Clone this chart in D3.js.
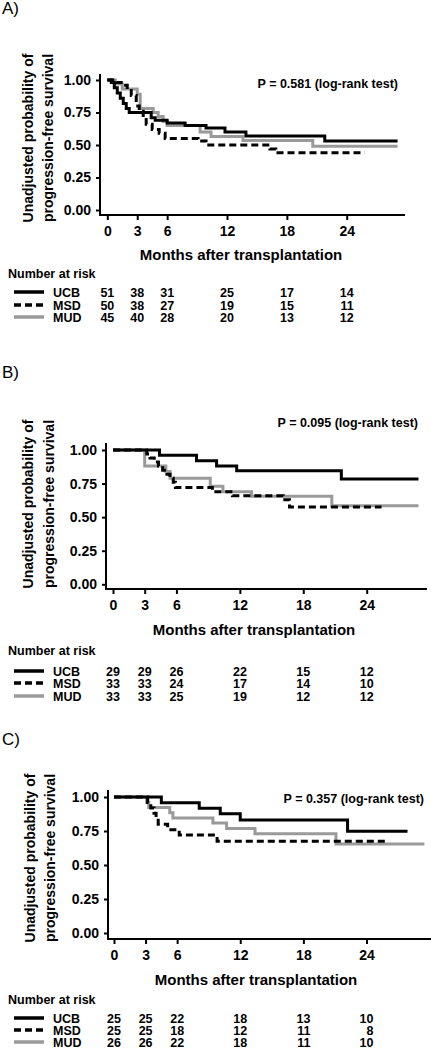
<!DOCTYPE html>
<html><head><meta charset="utf-8">
<script src="https://cdn.jsdelivr.net/npm/d3@7"></script>
<style>
body{margin:0;background:#fff}
svg{display:block}
text{font-family:"Liberation Sans",Arial,Helvetica,sans-serif;fill:#000}
</style>
</head><body>
<svg id="chart" width="431" height="1050"></svg>
<script>
// ---------- data ----------
const monthTicks = [0, 3, 6, 12, 18, 24];
const probTicks = [0, 0.25, 0.5, 0.75, 1];
const groups = ["UCB", "MSD", "MUD"];
const panelLabels = ["A)", "B)", "C)"];
const pTexts = ["P = 0.581 (log-rank test)", "P = 0.095 (log-rank test)", "P = 0.357 (log-rank test)"];
const yTitle = ["Unadjusted probability of", "progression-free survival"];
const xTitle = "Months after transplantation";
const riskTitle = "Number at risk";

// numbers at risk (per group, at monthTicks)
const riskA_UCB = [51, 38, 31, 25, 17, 14];
const riskA_MSD = [50, 38, 27, 19, 15, 11];
const riskA_MUD = [45, 40, 28, 20, 13, 12];
const riskB_UCB = [29, 29, 26, 22, 15, 12];
const riskB_MSD = [33, 33, 24, 17, 14, 10];
const riskB_MUD = [33, 33, 25, 19, 12, 12];
const riskC_UCB = [25, 25, 22, 18, 13, 10];
const riskC_MSD = [25, 25, 18, 12, 11, 8];
const riskC_MUD = [26, 26, 22, 18, 11, 10];

// Kaplan-Meier steps [month, survival]; last pair = end of follow-up
const pfsA_UCB = [[0,1],[0.4,0.98],[0.7,0.94],[1.0,0.90],[1.3,0.86],[1.6,0.82],[1.9,0.78],[2.2,0.75],[4.4,0.71],[4.8,0.69],[6.0,0.67],[7.8,0.65],[9.9,0.63],[11.8,0.60],[13.9,0.57],[21.8,0.53],[29.1,0.53]];
const pfsA_MSD = [[0,1],[0.9,0.98],[1.4,0.96],[2.0,0.92],[2.4,0.88],[2.9,0.80],[3.2,0.76],[3.6,0.71],[3.9,0.66],[4.5,0.62],[5.2,0.59],[5.8,0.55],[9.1,0.53],[9.9,0.50],[16.3,0.47],[16.9,0.44],[25.8,0.44]];
const pfsA_MUD = [[0,1],[0.8,0.97],[1.5,0.93],[3.0,0.89],[3.3,0.78],[4.6,0.75],[5.1,0.72],[5.6,0.68],[6.0,0.65],[9.3,0.60],[10.4,0.565],[13.6,0.535],[20.6,0.49],[29.1,0.49]];
const pfsB_UCB = [[0,1],[4.4,0.96],[7.9,0.92],[9.8,0.88],[11.7,0.845],[21.6,0.785],[28.9,0.785]];
const pfsB_MSD = [[0,1],[3.2,0.97],[3.5,0.94],[3.9,0.91],[4.3,0.88],[4.7,0.85],[5.1,0.82],[5.4,0.79],[5.7,0.76],[5.9,0.72],[9.4,0.69],[11.3,0.66],[16.1,0.63],[16.7,0.575],[25.4,0.575]];
const pfsB_MUD = [[0,1],[3.0,0.88],[5.0,0.84],[5.4,0.79],[9.2,0.73],[10.4,0.69],[13.1,0.655],[20.7,0.585],[28.9,0.585]];
const pfsC_UCB = [[0,1],[4.5,0.958],[8.1,0.917],[10.1,0.877],[12.0,0.83],[22.2,0.748],[27.9,0.748]];
const pfsC_MSD = [[0,1],[3.2,0.96],[3.5,0.92],[3.8,0.88],[4.0,0.84],[4.2,0.80],[5.1,0.76],[6.2,0.72],[9.8,0.675],[26.0,0.675]];
const pfsC_MUD = [[0,1],[3.1,0.962],[3.3,0.923],[5.3,0.885],[5.6,0.846],[9.4,0.808],[10.7,0.769],[13.4,0.73],[21.1,0.655],[29.5,0.655]];

// ---------- assembly ----------
const panels = [
  {curves: [pfsA_UCB, pfsA_MSD, pfsA_MUD], risk: [riskA_UCB, riskA_MSD, riskA_MUD]},
  {curves: [pfsB_UCB, pfsB_MSD, pfsB_MUD], risk: [riskB_UCB, riskB_MSD, riskB_MUD]},
  {curves: [pfsC_UCB, pfsC_MSD, pfsC_MUD], risk: [riskC_UCB, riskC_MSD, riskC_MUD]}
];
const layout = [
  {lab:14,  axisX:100, xAxisY:215, yTop:74,  y1:80,  y0:210,   x0:107.3, x24:346.7, xRight:405, pX:398, pY:88,  yl:[33,53], ylc:138, tx:241, ty:260, narY:277.5, rows:[292,305,317]},
  {lab:378, axisX:106, xAxisY:589, yTop:443, y1:450, y0:584.3, x0:113,   x24:366.7, xRight:427, pX:418, pY:427, yl:[33,54], ylc:504, tx:254, ty:635, narY:654.5, rows:[671,683,696]},
  {lab:745, axisX:108, xAxisY:939, yTop:790, y1:797, y0:933,   x0:114,   x24:366.5, xRight:431, pX:424, pY:803, yl:[35,55], ylc:858, tx:256, ty:985, narY:1003.5, rows:[1018,1030,1042]}
];
const styles = {
  UCB: {stroke:"#000", dash:null},
  MSD: {stroke:"#000", dash:"7,4"},
  MUD: {stroke:"#9a9a9a", dash:null}
};

const svg = d3.select("#chart");

panels.forEach((p, i) => {
  const L = layout[i];
  const g = svg.append("g");

  // scales anchored on tick positions, extended to the axis extents
  const xs0 = d3.scaleLinear().domain([0, 24]).range([L.x0, L.x24]);
  const x = d3.scaleLinear().domain([xs0.invert(L.axisX), xs0.invert(L.xRight)]).range([L.axisX, L.xRight]);
  const ys0 = d3.scaleLinear().domain([0, 1]).range([L.y0, L.y1]);
  const y = d3.scaleLinear().domain([ys0.invert(L.xAxisY), ys0.invert(L.yTop)]).range([L.xAxisY, L.yTop]);

  // panel label
  g.append("text").attr("x", 2).attr("y", L.lab).attr("font-size", 17).text(panelLabels[i]);

  // curves (grey first, black on top)
  const line = d3.line().x(d => x(d[0])).y(d => y(d[1])).curve(d3.curveStepAfter);
  [2, 1, 0].forEach(k => {
    const st = styles[groups[k]];
    g.append("path").datum(p.curves[k])
      .attr("d", line).attr("fill", "none")
      .attr("stroke", st.stroke).attr("stroke-width", 3)
      .attr("stroke-dasharray", st.dash)
      .attr("stroke-linejoin", "miter");
  });

  // axes
  const xAxis = d3.axisBottom(x).tickValues(monthTicks).tickSize(5).tickPadding(6).tickFormat(d3.format("d"));
  const gx = g.append("g").attr("transform", `translate(0,${L.xAxisY})`).call(xAxis);
  const yAxis = d3.axisLeft(y).tickValues(probTicks).tickSize(4).tickPadding(5).tickFormat(d3.format(".2f"));
  const gy = g.append("g").attr("transform", `translate(${L.axisX},0)`).call(yAxis);
  [gx, gy].forEach(a => {
    a.select(".domain").remove();
    a.selectAll(".tick line").attr("stroke", "#000").attr("stroke-width", 2);
    a.selectAll(".tick text").attr("font-size", 14).attr("font-weight", "bold")
      .attr("font-family", '"Liberation Sans",Arial,sans-serif').attr("fill", "#000");
  });
  g.append("line").attr("x1", L.axisX).attr("x2", L.xRight).attr("y1", L.xAxisY).attr("y2", L.xAxisY)
    .attr("stroke", "#000").attr("stroke-width", 2);
  g.append("line").attr("x1", L.axisX).attr("x2", L.axisX).attr("y1", L.yTop).attr("y2", L.xAxisY + 1)
    .attr("stroke", "#000").attr("stroke-width", 2);

  // p-value
  g.append("text").attr("x", L.pX).attr("y", L.pY).attr("text-anchor", "end")
    .attr("font-size", 12.5).attr("font-weight", "bold").text(pTexts[i]);

  // y title
  yTitle.forEach((t, j) => {
    g.append("text").attr("transform", `translate(${L.yl[j]},${L.ylc}) rotate(-90)`)
      .attr("text-anchor", "middle").attr("font-size", 14).attr("font-weight", "bold").text(t);
  });

  // x title
  g.append("text").attr("x", L.tx).attr("y", L.ty).attr("text-anchor", "middle")
    .attr("font-size", 15).attr("font-weight", "bold").text(xTitle);

  // number at risk
  g.append("text").attr("x", 8).attr("y", L.narY).attr("font-size", 12.5).attr("font-weight", "bold").text(riskTitle);
  groups.forEach((grp, k) => {
    const cy = L.rows[k];
    const st = styles[grp];
    g.append("line").attr("x1", 14).attr("x2", 44).attr("y1", cy).attr("y2", cy)
      .attr("stroke", st.stroke).attr("stroke-width", 3.5).attr("stroke-dasharray", st.dash);
    g.append("text").attr("x", 53).attr("y", cy + 4.5).attr("font-size", 12.5).attr("font-weight", "bold").text(grp);
    g.selectAll(null).data(p.risk[k]).enter().append("text")
      .attr("x", (d, m) => x(monthTicks[m]) + 7).attr("y", cy + 4.5)
      .attr("text-anchor", "end").attr("font-size", 12.5).attr("font-weight", "bold")
      .text(d => d);
  });
});
</script>
</body></html>
